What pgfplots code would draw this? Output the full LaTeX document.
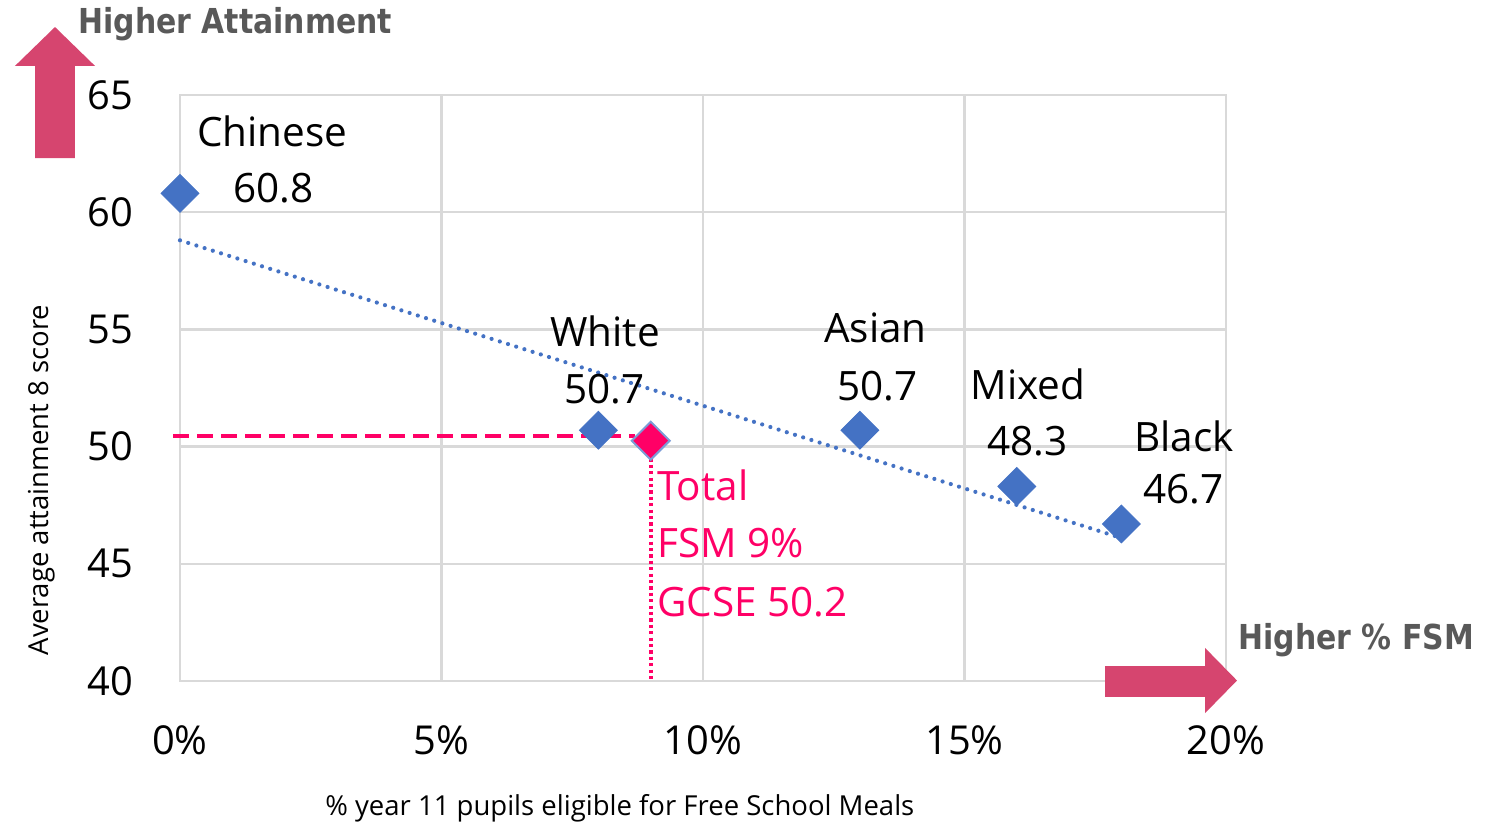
\documentclass[border=0pt]{standalone}
\usepackage{pgfplots}
\pgfplotsset{compat=1.18}
\usepackage{fontspec}
\usepackage{graphicx}
\setmainfont{Open Sans}
\newfontfamily\headfont{DejaVu Sans}

\definecolor{ptblue}{HTML}{4472C4}
\definecolor{hotpink}{HTML}{FF0066}
\definecolor{arrowpink}{HTML}{D6456F}
\definecolor{gridgray}{HTML}{D9D9D9}
\definecolor{labelgray}{HTML}{595959}

\begin{document}
\begin{tikzpicture}[
	lab/.style={font=\fontsize{20.3}{24}\selectfont, inner sep=0pt},
	tot/.style={font=\fontsize{20.3}{24}\selectfont, inner sep=0pt, anchor=west, text=hotpink},
]
\begin{axis}[
	scale only axis,
	width=523bp, height=293bp,
	xmin=0, xmax=20, ymin=40, ymax=65,
	xtick={0,5,10,15,20},
	xticklabels={0\%,5\%,10\%,15\%,20\%},
	ytick={40,45,50,55,60,65},
	yticklabels={40,45,50,55,60,65},
	grid=major,
	major grid style={gridgray, line width=1.2bp},
	axis line style={gridgray, line width=1.2bp},
	tick style={draw=none},
	tick label style={font=\fontsize{20}{24}\selectfont},
	xticklabel style={yshift=-19bp},
	yticklabel style={xshift=-20bp},
	clip=false,
]

% trend line (linear fit)
\addplot[ptblue, line width=2.1bp, dash pattern=on 0bp off 4.3bp, line cap=round]
	coordinates {(0,58.8) (18,46.1)};

% ethnic groups
\addplot[only marks, mark=square*, mark size=6.7bp,
	mark options={rotate=45, fill=ptblue, draw=ptblue}]
	coordinates {(0,60.8) (8,50.7) (13,50.7) (16,48.3) (18,46.7)};

% total guide lines
\addplot[hotpink, line width=2bp, dash pattern=on 8bp off 4bp]
	coordinates {(-0.13,50.45) (8.7,50.45)};
\addplot[hotpink, line width=1.8bp, dash pattern=on 1.6bp off 1.6bp]
	coordinates {(9,49.5) (9,40)};

% total
\addplot[only marks, mark=square*, mark size=6.7bp,
	mark options={rotate=45, fill=hotpink, draw=ptblue!70, line width=1bp}]
	coordinates {(9,50.25)};

% point labels
\node[lab] at (axis cs:1.76,63.46) {Chinese};
\node[lab] at (axis cs:1.78,61.03) {60.8};
\node[lab] at (axis cs:8.13,54.93) {White};
\node[lab] at (axis cs:8.11,52.46) {50.7};
\node[lab] at (axis cs:13.30,55.06) {Asian};
\node[lab] at (axis cs:13.33,52.59) {50.7};
\node[lab] at (axis cs:16.21,52.67) {Mixed};
\node[lab] at (axis cs:16.21,50.24) {48.3};
\node[lab] at (axis cs:19.20,50.45) {Black};
\node[lab] at (axis cs:19.18,48.19) {46.7};

\node[tot] at (axis cs:9.12,48.36) {Total};
\node[tot] at (axis cs:9.12,45.89) {FSM 9\%};
\node[tot] at (axis cs:9.12,43.37) {GCSE 50.2};

% axis titles
\node[rotate=90, font=\fontsize{13.8}{16}\selectfont] at (axis cs:-2.64,48.57)
	{Average attainment 8 score};
\node[font=\fontsize{13.8}{16}\selectfont] at (axis cs:8.41,34.58)
	{\% year 11 pupils eligible for Free School Meals};

% direction arrows
\fill[arrowpink] (axis cs:-2.772,62.31) -- (axis cs:-2.772,66.24) -- (axis cs:-3.155,66.24)
	-- (axis cs:-2.39,67.90) -- (axis cs:-1.625,66.24) -- (axis cs:-2.008,66.24)
	-- (axis cs:-2.008,62.31) -- cycle;
\fill[arrowpink] (axis cs:17.69,40.64) -- (axis cs:19.60,40.64) -- (axis cs:19.60,41.41)
	-- (axis cs:20.21,40.02) -- (axis cs:19.60,38.63) -- (axis cs:19.60,39.32)
	-- (axis cs:17.69,39.32) -- cycle;

\node[anchor=west, inner sep=0pt, text=labelgray, font=\headfont\bfseries\fontsize{15}{18}\selectfont]
	at (axis cs:-1.95,68.03) {\scalebox{1}[1.15]{Higher Attainment}};
\node[anchor=west, inner sep=0pt, text=labelgray, font=\headfont\bfseries\fontsize{15}{18}\selectfont]
	at (axis cs:20.23,41.75) {\scalebox{1}[1.15]{Higher \% FSM}};
\end{axis}
\pgfresetboundingbox
\path ([shift={(-90bp,-72.5bp)}]current axis.south west)
	rectangle ([shift={(129.5bp,47.5bp)}]current axis.north east);
\end{tikzpicture}
\end{document}
